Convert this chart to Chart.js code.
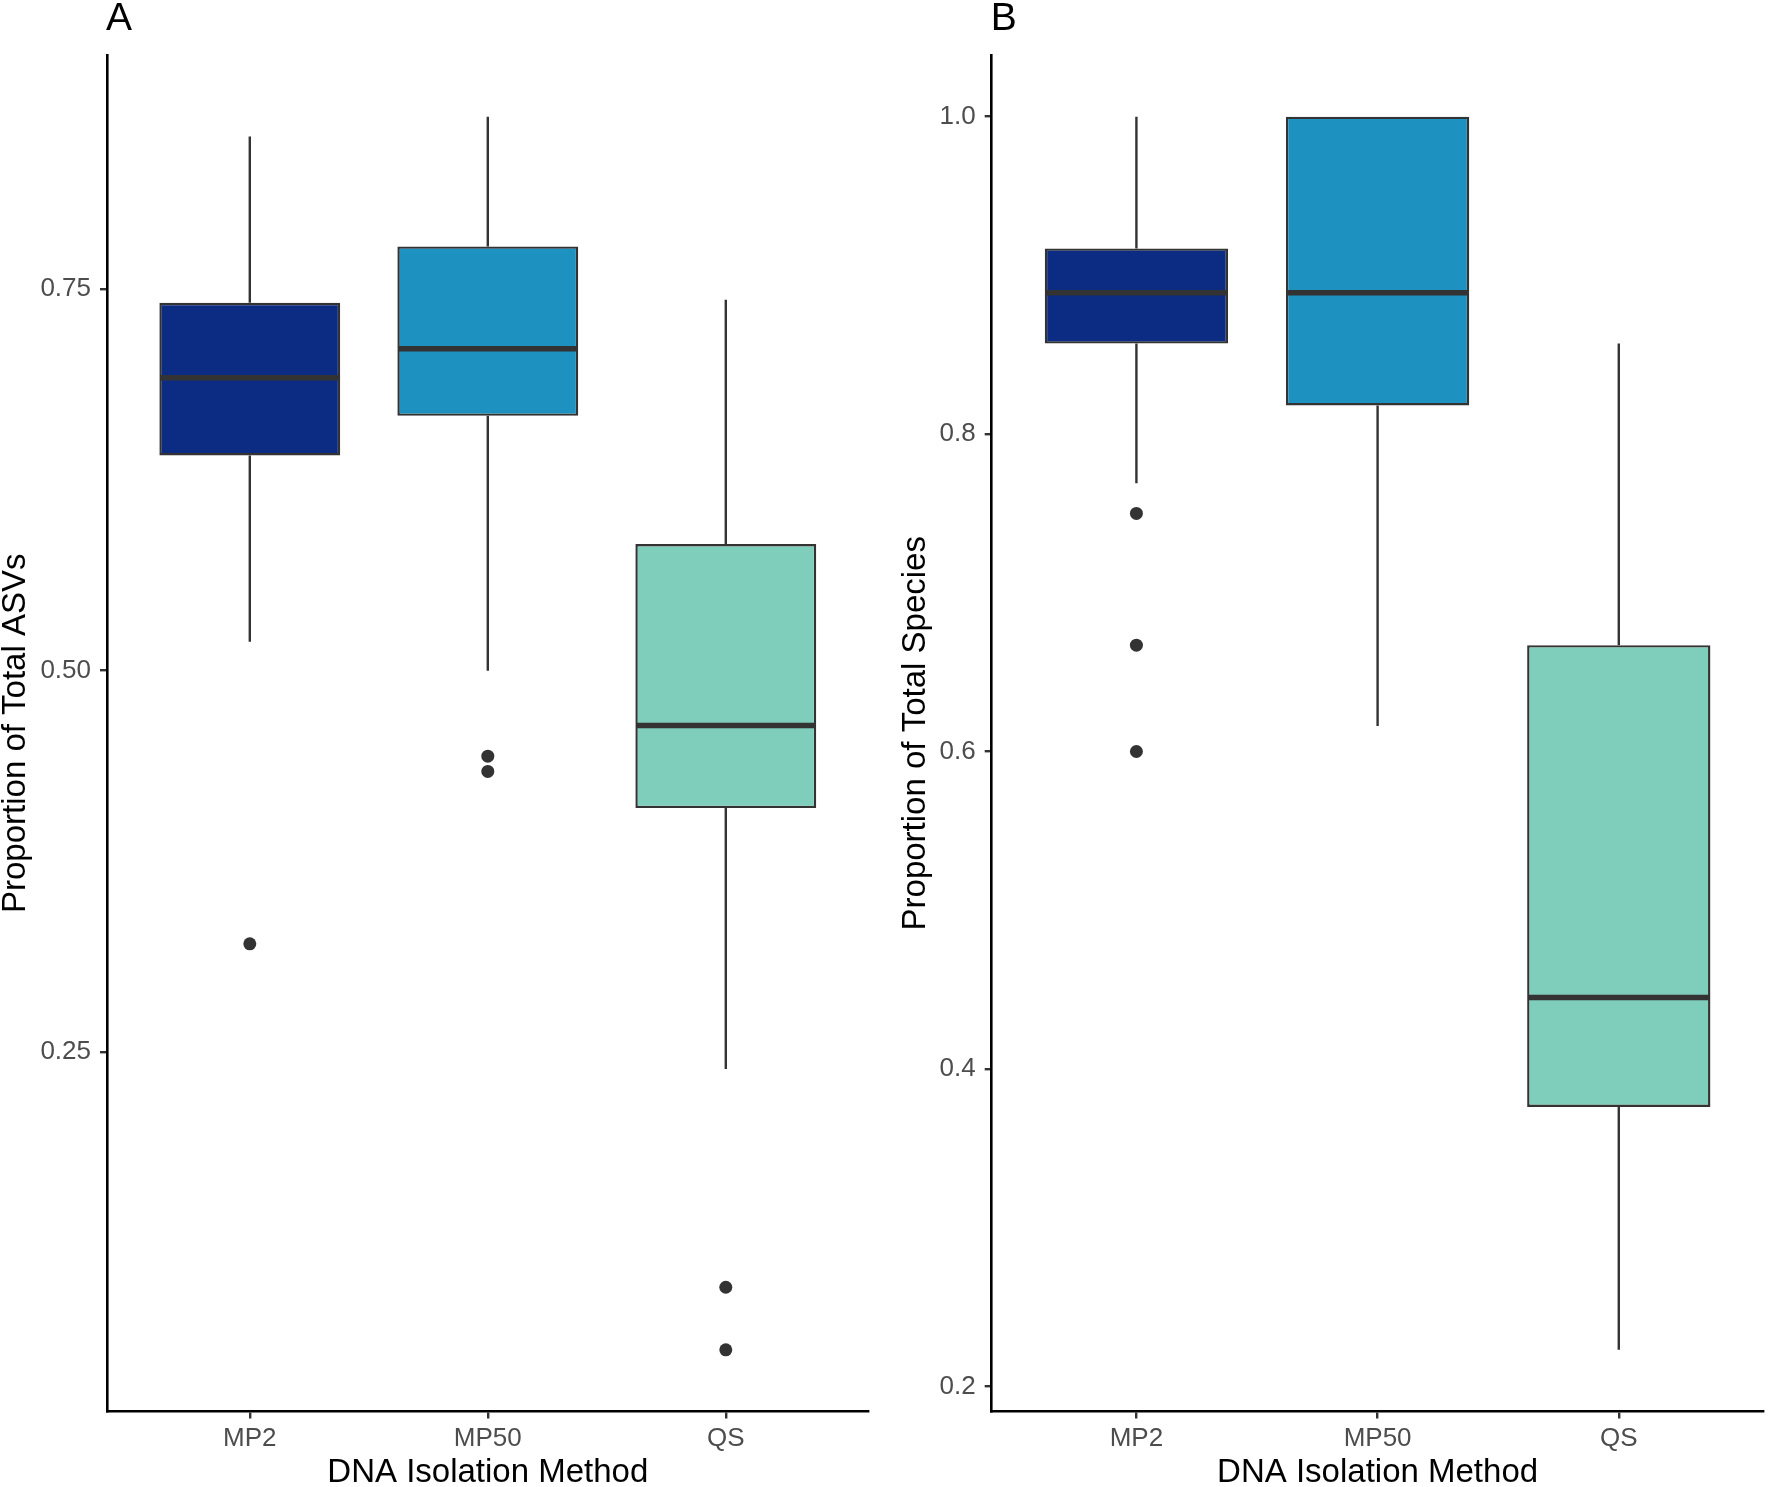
<!DOCTYPE html>
<html>
<head>
<meta charset="utf-8">
<script src="https://cdn.jsdelivr.net/npm/chart.js@4.4.1/dist/chart.umd.min.js"></script>
<style>
  html, body { margin: 0; padding: 0; background: #ffffff; }
  #wrap { position: relative; width: 1770px; height: 1487px; }
  canvas { position: absolute; top: 0; }
  #chartA { left: 0; }
  #chartB { left: 880px; }
</style>
</head>
<body>
<div id="wrap">
  <canvas id="chartA" width="880" height="1487"></canvas>
  <canvas id="chartB" width="890" height="1487"></canvas>
</div>
<script>
const categories = ['MP2', 'MP50', 'QS'];
const boxColors = ['#0C2C84', '#1D91C0', '#7FCDBB'];

// panel A: proportion of total ASVs
const asvLower = [0.519, 0.500, 0.239];
const asvQ1 = [0.641, 0.667, 0.410];
const asvMedian = [0.692, 0.711, 0.464];
const asvQ3 = [0.741, 0.778, 0.583];
const asvUpper = [0.850, 0.863, 0.743];
const asvOutliers = [[0.321], [0.444, 0.434], [0.096, 0.055]];
const asvTicks = [0.25, 0.50, 0.75];

// panel B: proportion of total species
const spLower = [0.769, 0.616, 0.223];
const spQ1 = [0.857, 0.818, 0.376];
const spMedian = [0.889, 0.889, 0.445];
const spQ3 = [0.917, 1.000, 0.667];
const spUpper = [1.000, 1.000, 0.857];
const spOutliers = [[0.750, 0.667, 0.600], [], []];
const spTicks = [0.2, 0.4, 0.6, 0.8, 1.0];

Chart.defaults.font.family = "'Liberation Sans', Arial, sans-serif";

const DARK = '#333333';

// whiskers under the boxes, medians on top, panel tag in the corner
const boxPlugin = {
  id: 'boxStats',
  beforeDatasetsDraw(chart, args, opts) {
    const ctx = chart.ctx;
    const xs = chart.scales.x, ys = chart.scales.y;
    ctx.save();
    ctx.strokeStyle = DARK;
    ctx.lineWidth = 2.4;
    for (let i = 0; i < categories.length; i++) {
      const x = xs.getPixelForValue(i + 1);
      ctx.beginPath();
      ctx.moveTo(x, ys.getPixelForValue(opts.upper[i]));
      ctx.lineTo(x, ys.getPixelForValue(opts.q3[i]));
      ctx.moveTo(x, ys.getPixelForValue(opts.q1[i]));
      ctx.lineTo(x, ys.getPixelForValue(opts.lower[i]));
      ctx.stroke();
    }
    ctx.restore();
  },
  afterDatasetsDraw(chart, args, opts) {
    const ctx = chart.ctx;
    const ys = chart.scales.y;
    const bars = chart.getDatasetMeta(0).data;
    ctx.save();
    ctx.strokeStyle = DARK;
    ctx.lineWidth = 5.5;
    bars.forEach((bar, i) => {
      const p = bar.getProps(['x', 'width'], true);
      const y = ys.getPixelForValue(opts.median[i]);
      ctx.beginPath();
      ctx.moveTo(p.x - p.width / 2 + 1, y);
      ctx.lineTo(p.x + p.width / 2 - 1, y);
      ctx.stroke();
    });
    ctx.restore();
  },
  afterDraw(chart, args, opts) {
    const ctx = chart.ctx;
    ctx.save();
    ctx.fillStyle = '#000';
    ctx.font = "39px 'Liberation Sans', Arial, sans-serif";
    ctx.textBaseline = 'alphabetic';
    ctx.textAlign = 'left';
    ctx.fillText(opts.tag, chart.chartArea.left - 1, 30);
    ctx.restore();
  }
};

function makeChart(id, s, outliers, ticks, decimals, yTitle, tag, yWidth, padRight, titlePad) {
  const all = [].concat(s.lower, s.upper, ...outliers);
  const lo = Math.min(...all), hi = Math.max(...all);
  const ex = (hi - lo) * 0.05;

  const points = [];
  outliers.forEach((vals, i) => vals.forEach(v => points.push({ x: i + 1, y: v })));

  return new Chart(document.getElementById(id), {
    type: 'bar',
    data: {
      datasets: [
        {
          data: categories.map((c, i) => ({ x: i + 1, y: [s.q1[i], s.q3[i]] })),
          backgroundColor: boxColors,
          borderColor: DARK,
          borderWidth: 2.4,
          borderSkipped: false,
          barPercentage: 0.76,
          categoryPercentage: 1.0,
          grouped: false
        },
        {
          type: 'scatter',
          data: points,
          pointRadius: 6.5,
          pointBackgroundColor: DARK,
          pointBorderWidth: 0
        }
      ]
    },
    options: {
      responsive: false,
      devicePixelRatio: 1,
      animation: false,
      layout: { padding: { top: 55, right: padRight, left: 0, bottom: 0 } },
      plugins: {
        legend: { display: false },
        tooltip: { enabled: false },
        boxStats: Object.assign({ tag: tag }, s)
      },
      scales: {
        x: {
          type: 'linear',
          min: 0.4,
          max: 3.6,
          offset: false,
          afterBuildTicks: sc => { sc.ticks = categories.map((c, i) => ({ value: i + 1 })); },
          afterFit: sc => { sc.height = 75.5; },
          ticks: {
            callback: v => categories[v - 1],
            color: '#4D4D4D',
            font: { size: 26 },
            padding: 5,
            maxRotation: 0,
            autoSkip: false
          },
          grid: { offset: false, drawOnChartArea: false, drawTicks: true, tickLength: 7, color: DARK, lineWidth: 2.4 },
          border: { display: true, color: '#000', width: 2.6 },
          title: {
            display: true,
            text: 'DNA Isolation Method',
            color: '#000',
            font: { size: 33, lineHeight: 0.85 },
            padding: { top: 0, bottom: 0 }
          }
        },
        y: {
          min: lo - ex,
          max: hi + ex,
          afterBuildTicks: sc => { sc.ticks = ticks.map(v => ({ value: v })); },
          afterFit: sc => { sc.width = yWidth; },
          ticks: {
            callback: v => v.toFixed(decimals),
            color: '#4D4D4D',
            font: { size: 26 },
            padding: 9
          },
          grid: { drawOnChartArea: false, drawTicks: true, tickLength: 7, color: DARK, lineWidth: 2.4 },
          border: { display: true, color: '#000', width: 2.6 },
          title: {
            display: true,
            text: yTitle,
            color: '#000',
            font: { size: 33, lineHeight: 0.85 },
            padding: { top: titlePad, bottom: 0 }
          }
        }
      }
    },
    plugins: [boxPlugin]
  });
}

makeChart('chartA',
  { lower: asvLower, q1: asvQ1, median: asvMedian, q3: asvQ3, upper: asvUpper },
  asvOutliers, asvTicks, 2, 'Proportion of Total ASVs', 'A', 107, 11.4, 2);

makeChart('chartB',
  { lower: spLower, q1: spQ1, median: spMedian, q3: spQ3, upper: spUpper },
  spOutliers, spTicks, 1, 'Proportion of Total Species', 'B', 111.7, 3, 22);
</script>
</body>
</html>
